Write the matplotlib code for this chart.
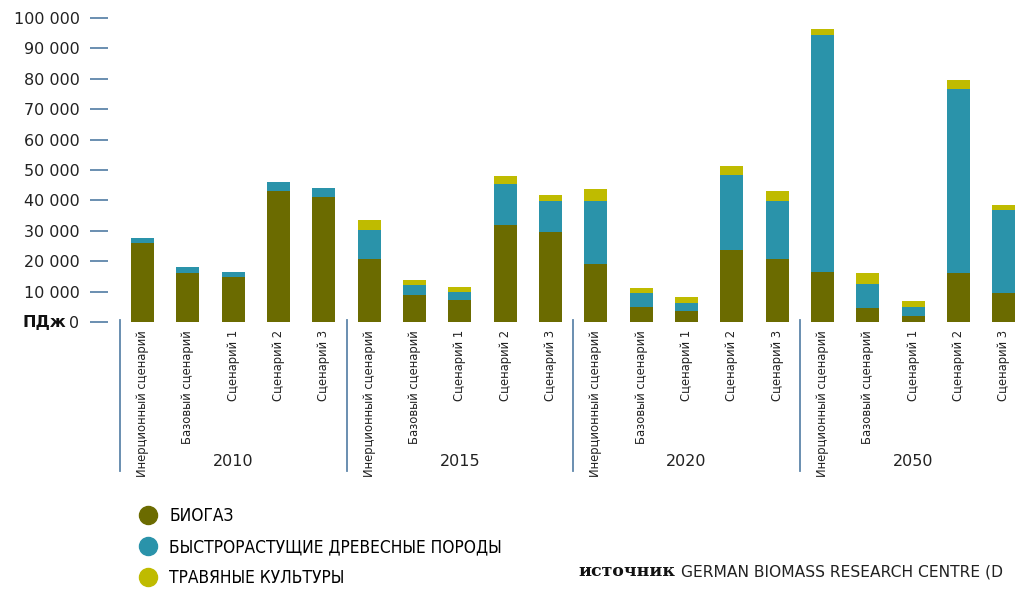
import matplotlib
matplotlib.use("Agg")
import matplotlib.pyplot as plt
from matplotlib.lines import Line2D
from matplotlib import font_manager as fm
import numpy as np

years = ["2010", "2015", "2020", "2050"]
scenarios = ["Инерционный сценарий", "Базовый сценарий", "Сценарий 1", "Сценарий 2", "Сценарий 3"]
series_names = ["БИОГАЗ", "БЫСТРОРАСТУЩИЕ ДРЕВЕСНЫЕ ПОРОДЫ", "ТРАВЯНЫЕ КУЛЬТУРЫ"]

biogas = [26000, 16100, 14800, 43100, 41100,
          20700, 8900, 7200, 31900, 29600,
          19100, 4900, 3600, 23700, 20700,
          16500, 4700, 2100, 16100, 9500]
wood = [1600, 2000, 1600, 2900, 2900,
        9600, 3300, 2700, 13500, 10200,
        20700, 4600, 2700, 24700, 19100,
        77900, 7800, 2900, 60500, 27300]
grass = [0, 0, 0, 0, 0,
         3200, 1600, 1600, 2600, 2000,
         3900, 1700, 1900, 2900, 3300,
         2000, 3600, 1900, 3000, 1700]

yticks = [0, 10000, 20000, 30000, 40000, 50000, 60000, 70000, 80000, 90000, 100000]
ytick_labels = ["0", "10 000", "20 000", "30 000", "40 000", "50 000",
                "60 000", "70 000", "80 000", "90 000", "100 000"]

colors = ["#6b6b00", "#2a93aa", "#bfbb00"]
axis_blue = "#5e86aa"

# find a narrow font with Cyrillic glyphs, if one is installed
def has_cyrillic(fname):
    try:
        cmap = fm.get_font(fname).get_charmap()
        return all(ord(c) in cmap for c in "ИБЫсц")
    except Exception:
        return False

narrow_file = None
for f in fm.fontManager.ttflist:
    key = (f.name + " " + f.fname).lower()
    if ("narrow" in key or "condensed" in key) and f.style == "normal" \
            and f.weight in (400, "normal", "regular") and "bold" not in key:
        if has_cyrillic(f.fname):
            narrow_file = f.fname
            break

def narrow(size):
    if narrow_file:
        return fm.FontProperties(fname=narrow_file, size=size)
    return fm.FontProperties(family="Liberation Sans", size=size * 0.88)

W, H = 1019, 589
fig = plt.figure(figsize=(W / 100, H / 100), dpi=100)

def fx(px):
    return px / W

def fy(py):
    return 1 - py / H

x0_px, step_px = 142.5, 45.34
ax_left_px, ax_right_px = 108, 1019
y0_px, y100k_px = 322, 18
ax_top_px = 8
ppu_y = (y0_px - y100k_px) / 100000

ax = fig.add_axes([fx(ax_left_px), fy(y0_px), fx(ax_right_px - ax_left_px),
                   (y0_px - ax_top_px) / H])
ax.set_xlim((ax_left_px - x0_px) / step_px, (ax_right_px - x0_px) / step_px)
ax.set_ylim(0, (y0_px - ax_top_px) / ppu_y)

n = len(years) * len(scenarios)
x = np.arange(n)
b = np.array(biogas)
w = np.array(wood)
g = np.array(grass)
bw = 23 / step_px
ax.bar(x, b, width=bw, color=colors[0], linewidth=0)
ax.bar(x, w, width=bw, bottom=b, color=colors[1], linewidth=0)
ax.bar(x, g, width=bw, bottom=b + w, color=colors[2], linewidth=0)

for s in ax.spines.values():
    s.set_visible(False)
ax.set_xticks([])
ax.set_yticks(yticks)
ax.set_yticklabels(ytick_labels)
ax.tick_params(axis="y", direction="out", length=13, width=1.3, color=axis_blue,
               pad=7.5, labelsize=11.5, labelcolor="#222222")

fig.text(fx(66), fy(y0_px), "ПДж", ha="right", va="center", fontsize=11.5,
         fontweight="bold", color="#111111")

for i in range(n):
    px = x0_px + i * step_px
    fig.text(fx(px), fy(330), scenarios[i % len(scenarios)], rotation=90,
             ha="center", va="top", fontproperties=narrow(9.3), color="#222222")

for gi, yr in enumerate(years):
    sep_px = x0_px + (gi * len(scenarios) - 0.5) * step_px
    fig.add_artist(Line2D([fx(sep_px), fx(sep_px)], [fy(320), fy(471)],
                          transform=fig.transFigure, color=axis_blue, lw=1.3))
    mid_px = x0_px + (gi * len(scenarios) + 2) * step_px
    fig.text(fx(mid_px), fy(461), yr, ha="center", va="center", fontsize=11.5,
             color="#222222")

handles = [Line2D([], [], linestyle="none", marker="o", markersize=13,
                  markerfacecolor=c, markeredgecolor=c) for c in colors]
fig.legend(handles, series_names, loc="upper left",
           bbox_to_anchor=(fx(139), fy(507)), frameon=False,
           prop=narrow(12.4), labelspacing=0.76,
           handlelength=1.0, handletextpad=0.75, borderpad=0, borderaxespad=0)

fig.text(fx(578), fy(572), "источник", ha="left", va="center", fontsize=12.5,
         fontweight="bold", family="DejaVu Serif", color="#111111")
fig.text(fx(681), fy(572), "GERMAN BIOMASS RESEARCH CENTRE (D", ha="left",
         va="center", fontsize=11.2, color="#222222")

fig.savefig("out.png", dpi=100)
